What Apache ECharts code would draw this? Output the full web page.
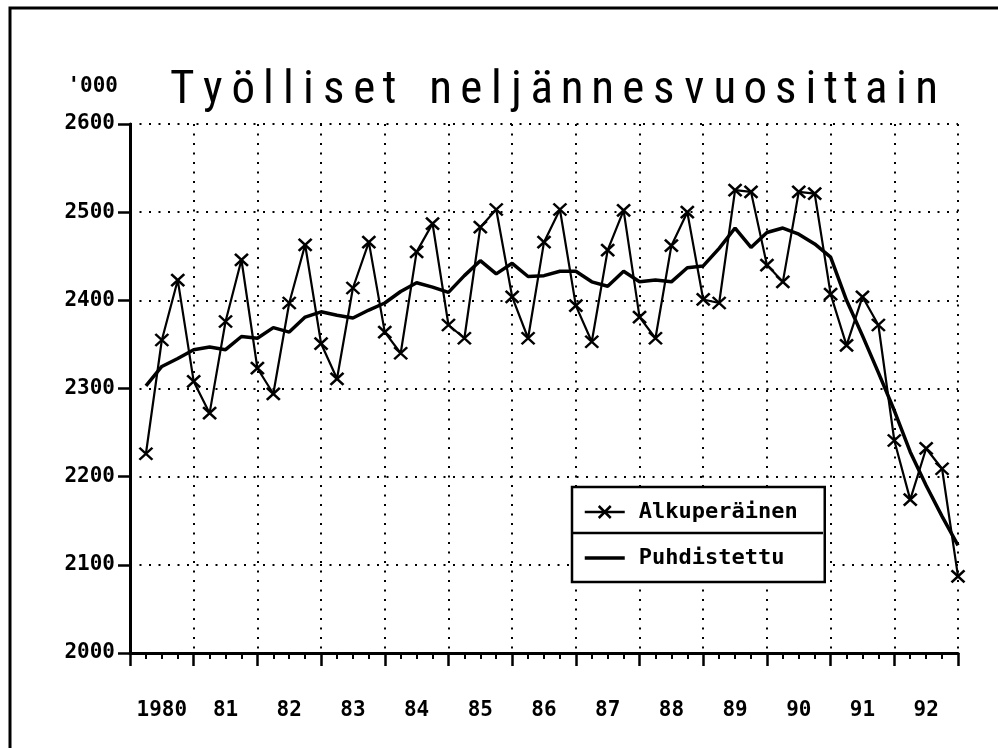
<!DOCTYPE html>
<html>
<head>
<meta charset="utf-8">
<script src="https://cdn.jsdelivr.net/npm/echarts@6/dist/echarts.min.js"></script>
<style>html,body{margin:0;padding:0;background:#fff;}#c{width:998px;height:748px;}</style>
</head>
<body>
<div id="c"></div>
<script>
// ---- data ----
const titleText = 'Työlliset neljännesvuosittain';
const unitText = "'000";
const yearLabels = ['1980', '81', '82', '83', '84', '85', '86', '87', '88', '89', '90', '91', '92'];
const yTicks = [2000, 2100, 2200, 2300, 2400, 2500, 2600];
const seriesNames = ['Alkuperäinen', 'Puhdistettu'];
// quarterly values 1980Q1 .. 1992Q4
const original = [2226, 2355, 2423, 2308, 2272, 2376, 2446, 2323, 2294, 2397,
  2463, 2351, 2311, 2414, 2466, 2364, 2340, 2455, 2487, 2372,
  2357, 2483, 2503, 2404, 2357, 2466, 2503, 2394, 2353, 2457,
  2502, 2381, 2357, 2462, 2500, 2401, 2397, 2525, 2523, 2440,
  2421, 2523, 2521, 2407, 2349, 2404, 2372, 2241, 2174, 2232,
  2209, 2087];
const smoothed = [2303, 2325, 2334, 2344, 2347, 2344, 2359, 2357, 2369, 2364,
  2381, 2387, 2383, 2380, 2389, 2397, 2410, 2420, 2415, 2409,
  2428, 2445, 2430, 2442, 2427, 2428, 2433, 2433, 2421, 2416,
  2433, 2421, 2423, 2421, 2437, 2439, 2459, 2482, 2460, 2477,
  2482, 2475, 2464, 2449, 2400, 2360, 2318, 2275, 2228, 2190,
  2155, 2122];

// ---- build ----
const mono = "'DejaVu Sans Mono', 'Liberation Mono', monospace";
const qPerYear = 4;
const nQ = original.length;
const origData = original.map((v, i) => [i + 1, v]);
const smoothData = smoothed.map((v, i) => [i + 1, v]);
const labelPos = yearLabels.map((_, i) => i * qPerYear + qPerYear / 2);
const labelMap = {};
labelPos.forEach((p, i) => { labelMap[p] = yearLabels[i]; });

const narrow = 'lijt';
const titleRich = titleText.split('').map(ch => {
  if (ch === ' ') return '{s| }';
  return (narrow.indexOf(ch) >= 0 ? '{n|' : '{w|') + ch + '}';
}).join('');
const tFont = { fontSize: 47, fontFamily: "'Liberation Sans Narrow', 'Roboto Condensed', 'Liberation Sans', sans-serif", fontWeight: 'normal', color: '#000', align: 'center', lineHeight: 50 };

const chart = echarts.init(document.getElementById('c'), null, { renderer: 'canvas' });
chart.setOption({
  animation: false,
  backgroundColor: '#fff',
  title: {
    text: titleRich,
    left: 167, top: 66, padding: 0,
    textStyle: {
      rich: {
        w: Object.assign({ width: 30.5 }, tFont),
        n: Object.assign({ width: 20 }, tFont),
        s: Object.assign({ width: 26 }, tFont)
      }
    }
  },
  grid: { left: 130, right: 40, top: 124, bottom: 95, containLabel: false },
  legend: {
    orient: 'vertical',
    left: 572, top: 487,
    padding: [14, 14, 13, 11],
    itemGap: 24,
    itemWidth: 40, itemHeight: 15,
    backgroundColor: '#fff',
    borderColor: '#000', borderWidth: 2.5, borderRadius: 0,
    data: [
      { name: seriesNames[0], lineStyle: { width: 2.5, color: '#000' }, itemStyle: { borderWidth: 2.5, borderColor: '#000' } },
      { name: seriesNames[1], lineStyle: { width: 3.5, color: '#000' }, itemStyle: { opacity: 0 } }
    ],
    textStyle: { fontFamily: mono, fontWeight: 'bold', fontSize: 22, color: '#000', padding: [0, 0, 0, 9], width: 172, lineHeight: 22 }
  },
  xAxis: {
    type: 'value', min: 0, max: nQ, interval: qPerYear,
    axisLine: { show: true, onZero: false, lineStyle: { color: '#000', width: 3 } },
    axisTick: { show: true, length: 13, lineStyle: { color: '#000', width: 2.5 } },
    minorTick: { show: true, splitNumber: qPerYear, length: 6, lineStyle: { color: '#000', width: 2 } },
    splitLine: { show: true, lineStyle: { color: '#000', width: 2, type: [2, 7.5] } },
    axisLabel: {
      customValues: labelPos,
      formatter: v => labelMap[v] || '',
      margin: 47,
      fontFamily: mono, fontWeight: 'bold', fontSize: 21, color: '#000'
    }
  },
  yAxis: {
    type: 'value', min: yTicks[0], max: yTicks[yTicks.length - 1], interval: yTicks[1] - yTicks[0],
    name: unitText,
    nameLocation: 'end',
    nameGap: 37,
    nameTextStyle: { fontFamily: mono, fontWeight: 'bold', fontSize: 21, color: '#000', align: 'right', verticalAlign: 'middle', padding: [0, 12, 0, 0] },
    axisLine: { show: true, lineStyle: { color: '#000', width: 3 } },
    axisTick: { show: true, length: 12, lineStyle: { color: '#000', width: 2.5 } },
    splitLine: { show: true, lineStyle: { color: '#000', width: 2, type: [2, 7.5] } },
    axisLabel: { margin: 15, formatter: v => String(v), fontFamily: mono, fontWeight: 'bold', fontSize: 21, color: '#000' }
  },
  series: [
    {
      name: seriesNames[0], type: 'line', data: origData,
      symbol: 'path://M0 0L10 10M10 0L0 10', symbolSize: [13, 12],
      showAllSymbol: true,
      itemStyle: { color: '#000', borderColor: '#000', borderWidth: 2.5 },
      lineStyle: { color: '#000', width: 2.2 },
      z: 3
    },
    {
      name: seriesNames[1], type: 'line', data: smoothData,
      symbol: 'none',
      itemStyle: { color: '#000' },
      lineStyle: { color: '#000', width: 3.5 },
      z: 4
    }
  ],
  graphic: [
    { type: 'polyline', shape: { points: [[10, 748], [10, 8], [998, 8]] }, style: { stroke: '#000', lineWidth: 3, fill: null }, z: 10 },
    { type: 'line', shape: { x1: 572, y1: 533, x2: 823, y2: 533 }, style: { stroke: '#000', lineWidth: 2.5 }, z: 100 }
  ]
});
</script>
</body>
</html>
